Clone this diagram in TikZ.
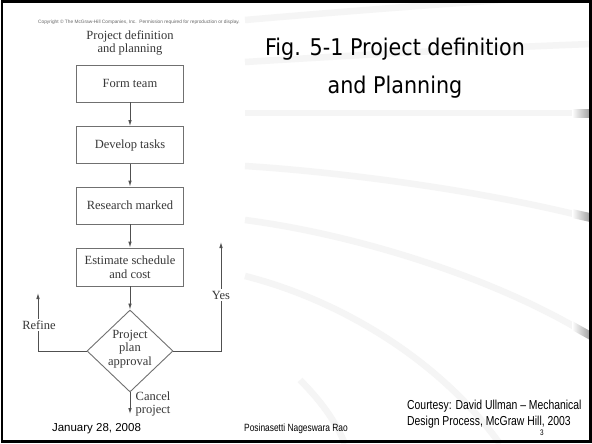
\documentclass[tikz,border=0pt]{standalone}
\usepackage{fontspec}
\setmainfont{Liberation Serif}
\newfontfamily\sansf{Liberation Sans}
\newfontfamily\narrowf[FakeStretch=0.8]{Liberation Sans}
\newfontfamily\titlef[FakeStretch=0.9]{DejaVu Sans}
\usetikzlibrary{shapes.geometric,arrows.meta}

\definecolor{boxgray}{HTML}{707070}
\definecolor{linegray}{HTML}{505050}
\definecolor{txtgray}{HTML}{383838}
\definecolor{swoosh}{HTML}{F5F5F5}

\tikzset{
  stepbox/.style={draw=boxgray, line width=0.9pt, minimum width=107pt,
    minimum height=37pt, inner sep=0pt, align=center, text=txtgray,
    font=\fontsize{12.5}{14}\selectfont},
  flow/.style={draw=linegray, line width=0.9pt,
    -{Latex[length=6pt,width=3.6pt]}},
  lbl/.style={text=txtgray, inner sep=1.5pt, font=\fontsize{12.5}{12.5}\selectfont},
  band/.style={draw=swoosh, line width=6.5pt},
}

\begin{document}
\begin{tikzpicture}[x=1pt,y=-1pt]
  \useasboundingbox (0,0) rectangle (592,444);
  \fill[white] (0,0) rectangle (592,444);

  % faint background swooshes of the slide template
  \draw[band] (245,20) .. controls (360,10) and (470,2) .. (560,-4);
  \draw[band] (245,62) .. controls (360,55) and (480,48) .. (592,44);
  \draw[band] (245,113) -- (590,113);
  \draw[band] (245,166) .. controls (340,172) and (480,190) .. (590,218);
  \draw[band] (245,220) .. controls (360,235) and (500,280) .. (590,336);
  \draw[band] (245,276) .. controls (340,300) and (440,360) .. (500,444);
  \draw[band] (300,380) .. controls (320,400) and (335,420) .. (345,444);
  % darker ends of the swooshes at the right edge
  \shade[left color=white, right color=gray!75] (572,109) rectangle (590,117);
  \shade[left color=white, right color=gray!75] (572,209) -- (590,213) -- (590,222) -- (572,218) -- cycle;
  \shade[left color=white, right color=gray!75] (572,321) -- (590,331) -- (590,340) -- (572,330) -- cycle;

  % slide frame
  \draw[black, line width=2.5pt] (2,1.5) rectangle (590.5,441.5);

  % copyright line and diagram heading
  \node[text=gray!80!black, font=\sansf\fontsize{4.8}{5}\selectfont] (copy) at (139,22)
    {Copyright \textcopyright\ The McGraw-Hill Companies, Inc.\ \ Permission required for reproduction or display.};
  \node[anchor=base, text=txtgray, font=\fontsize{12.5}{14}\selectfont] (head1) at (130,40) {Project definition};
  \node[anchor=base, text=txtgray, font=\fontsize{12.5}{14}\selectfont] (head2) at (130,53) {and planning};

  % process steps
  \node[stepbox] (form) at (130,83.5) {Form team};
  \node[stepbox] (develop) at (130,145) {Develop tasks};
  \node[stepbox] (research) at (130,205.5) {Research marked};
  \node[stepbox, minimum height=38pt] (estimate) at (130,267) {Estimate schedule\\and cost};
  \node[diamond, draw=boxgray, line width=0.9pt, minimum width=86pt,
        minimum height=82pt, inner sep=0pt] (approve) at (130,351) {};
  \node[text=txtgray, align=center, inner sep=0pt,
        font=\fontsize{12.5}{13.5}\selectfont] (approvetxt) at (130,349) {Project\\plan\\approval};

  \coordinate (refinetip) at (38,293);
  \coordinate (yestip) at (221,242);
  \coordinate (canceltip) at (130,414);

  \draw[flow] (form) -- (develop);
  \draw[flow] (develop) -- (research);
  \draw[flow] (research) -- (estimate);
  \draw[flow] (estimate) -- (approve);
  \draw[flow] (approve.west) -| (refinetip);
  \draw[flow] (approve.east) -| (yestip);
  \draw[flow] (approve.south) -- (canceltip);

  \node[lbl, fill=white] (refinelbl) at (39,325) {Refine};
  \node[lbl, fill=white] (yeslbl) at (221,295) {Yes};
  \node[lbl, anchor=west, align=left] (cancellbl) at (134,404) {Cancel\\project};

  % slide title
  \node[anchor=base, font=\titlef\fontsize{23}{23}\selectfont] (title1) at (395,56) {Fig. 5-1 Project definition};
  \node[anchor=base, font=\titlef\fontsize{23}{23}\selectfont] (title2) at (395,93) {and Planning};

  % footer
  \node[anchor=base, font=\sansf\fontsize{11.5}{12}\selectfont] (date) at (96.5,431) {January 28, 2008};
  \node[anchor=base, font=\narrowf\fontsize{10.5}{11}\selectfont] (author) at (296,431) {Posinasetti Nageswara Rao};
  \node[anchor=base west, inner sep=0pt, font=\narrowf\fontsize{13}{14}\selectfont] (court1) at (407,409) {Courtesy: David Ullman – Mechanical};
  \node[anchor=base west, inner sep=0pt, font=\narrowf\fontsize{13}{14}\selectfont] (court2) at (407,425) {Design Process, McGraw Hill, 2003};
  \node[anchor=base, inner sep=0pt, font=\narrowf\fontsize{8}{8}\selectfont] (pagenum) at (542,435.5) {3};
\end{tikzpicture}
\end{document}
